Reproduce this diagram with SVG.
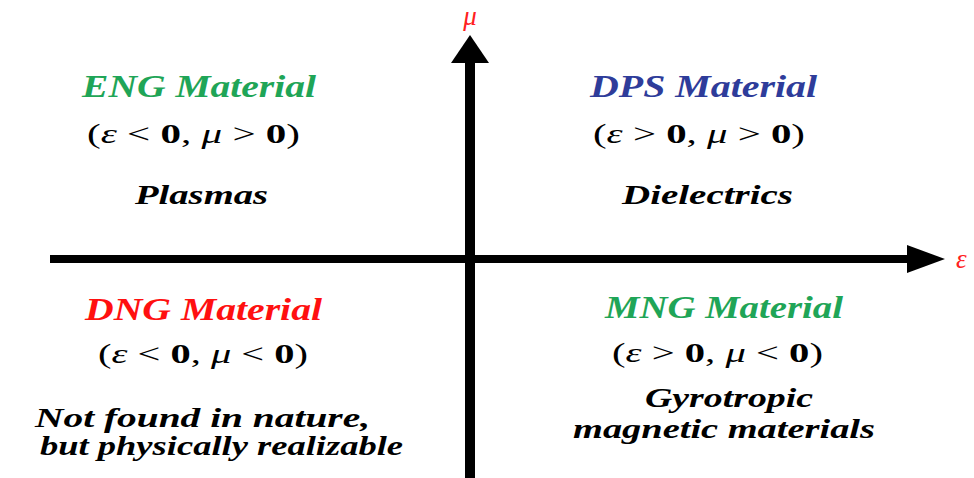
<svg xmlns="http://www.w3.org/2000/svg" width="974" height="478" viewBox="0 0 974 478">
<style>
  text { font-family: "Liberation Serif", "Times New Roman", serif; }
  .title { font-size: 31px; font-weight: bold; font-style: italic; }
  .formula { font-size: 27px; fill: #000; }
  .formula .v { font-style: italic; font-weight: normal; }
  .formula .b { font-weight: bold; }
  .desc { font-size: 28px; font-weight: bold; font-style: italic; fill: #000; }
  .axislabel { font-size: 27px; font-style: italic; fill: #ff2020; }
  .green { fill: #1fa557; }
  .blue { fill: #2e3c9a; }
  .red { fill: #ff1010; }
</style>
<rect width="974" height="478" fill="#fff"/>
<g id="connectors">
  <rect x="50" y="255" width="860" height="8" fill="#000"/>
  <polygon points="907,245 945,259 907,273" fill="#000"/>
  <rect x="465" y="62" width="10" height="416" fill="#000"/>
  <polygon points="451,63 470,35 489,63" fill="#000"/>
</g>
<g id="axis-mu"><text class="axislabel" x="470" y="25" text-anchor="middle">μ</text></g>
<g id="axis-eps"><text class="axislabel" x="956" y="268">ε</text></g>
<g id="eng">
  <text class="title green" x="82" y="97" textLength="234" lengthAdjust="spacingAndGlyphs">ENG Material</text>
  <text class="formula" x="87" y="143" textLength="213" lengthAdjust="spacingAndGlyphs">(<tspan class="v">ε</tspan> &lt; <tspan class="b">0</tspan>, <tspan class="v">μ</tspan> &gt; <tspan class="b">0</tspan>)</text>
  <text class="desc" x="135" y="204" textLength="133" lengthAdjust="spacingAndGlyphs">Plasmas</text>
</g>
<g id="dps">
  <text class="title blue" x="590" y="97" textLength="227" lengthAdjust="spacingAndGlyphs">DPS Material</text>
  <text class="formula" x="593" y="143" textLength="212" lengthAdjust="spacingAndGlyphs">(<tspan class="v">ε</tspan> &gt; <tspan class="b">0</tspan>, <tspan class="v">μ</tspan> &gt; <tspan class="b">0</tspan>)</text>
  <text class="desc" x="622" y="204" textLength="171" lengthAdjust="spacingAndGlyphs">Dielectrics</text>
</g>
<g id="dng">
  <text class="title red" x="85" y="320" textLength="237" lengthAdjust="spacingAndGlyphs">DNG Material</text>
  <text class="formula" x="98" y="363" textLength="210" lengthAdjust="spacingAndGlyphs">(<tspan class="v">ε</tspan> &lt; <tspan class="b">0</tspan>, <tspan class="v">μ</tspan> &lt; <tspan class="b">0</tspan>)</text>
  <text class="desc" x="35" y="427" textLength="335" lengthAdjust="spacingAndGlyphs">Not found in nature,</text>
  <text class="desc" x="40" y="455" textLength="363" lengthAdjust="spacingAndGlyphs">but physically realizable</text>
</g>
<g id="mng">
  <text class="title green" x="605" y="318" textLength="238" lengthAdjust="spacingAndGlyphs">MNG Material</text>
  <text class="formula" x="612" y="362" textLength="211" lengthAdjust="spacingAndGlyphs">(<tspan class="v">ε</tspan> &gt; <tspan class="b">0</tspan>, <tspan class="v">μ</tspan> &lt; <tspan class="b">0</tspan>)</text>
  <text class="desc" x="645" y="407" textLength="168" lengthAdjust="spacingAndGlyphs">Gyrotropic</text>
  <text class="desc" x="573" y="438" textLength="302" lengthAdjust="spacingAndGlyphs">magnetic materials</text>
</g>
</svg>
